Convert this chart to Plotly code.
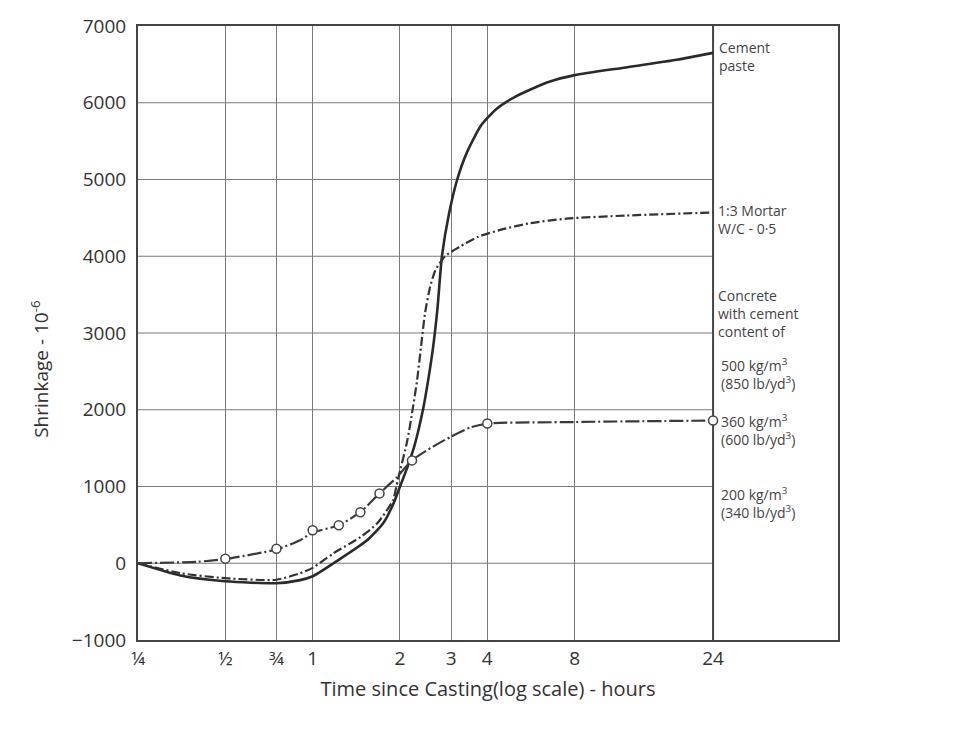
import math
import plotly.graph_objects as go

# ---------------- data ----------------
x_tick_vals = [0.25, 0.5, 0.75, 1, 2, 3, 4, 8, 24]
x_tick_text = ["¼", "½", "¾", "1", "2", "3", "4", "8", "24"]
y_tick_vals = [-1000, 0, 1000, 2000, 3000, 4000, 5000, 6000, 7000]

paste_t = [0.25, 0.35, 0.5, 0.75, 0.905, 1.0, 1.18, 1.54, 1.75, 1.9, 2.0, 2.12, 2.25, 2.4, 2.5, 2.6,
           2.69, 2.79, 2.95, 3.15, 3.4, 3.8, 4.3, 5.0, 6.5, 8, 12, 18, 24]
paste_s = [0, -160, -235, -260, -220, -170, 0, 300, 520, 780, 1000, 1250, 1550, 2000, 2380, 2810,
           3300, 4000, 4550, 5000, 5350, 5700, 5920, 6080, 6270, 6360, 6460, 6560, 6650]

mortar_t = [0.25, 0.35, 0.5, 0.75, 0.905, 1.0, 1.18, 1.46, 1.67, 1.89, 1.97, 2.12, 2.2, 2.29, 2.36,
            2.44, 2.54, 2.65, 2.86, 3.2, 3.7, 4.5, 5.6, 7.5, 12, 24]
mortar_s = [0, -130, -195, -215, -130, -60, 130, 340, 520, 820, 1100, 1600, 1950, 2380, 2800,
            3260, 3600, 3820, 4000, 4120, 4250, 4350, 4430, 4490, 4530, 4570]

conc360_t = [0.25, 0.4, 0.5, 0.75, 0.905, 1.0, 1.23, 1.46, 1.7, 1.95, 2.2, 2.6, 3.0, 3.5, 4.0, 8, 24]
conc360_s = [0, 20, 55, 180, 300, 400, 495, 665, 910, 1120, 1340, 1520, 1650, 1770, 1820, 1840, 1860]
conc360_mark_t = [0.5, 0.75, 1.0, 1.23, 1.46, 1.7, 2.2, 4.0, 24]
conc360_mark_s = [60, 190, 430, 495, 665, 910, 1340, 1820, 1860]

grid_end = 24

FONT = "Open Sans"
INK = "#333333"
GRID = "#7a7a7a"

fig = go.Figure()

# horizontal gridlines stop at 24 h
for yv in y_tick_vals[1:-1]:
    fig.add_trace(go.Scatter(x=[x_tick_vals[0], grid_end], y=[yv, yv], mode="lines",
                             line=dict(color=GRID, width=1.2), hoverinfo="skip", showlegend=False))
# heavier 24 h line
fig.add_trace(go.Scatter(x=[grid_end, grid_end], y=[y_tick_vals[0], y_tick_vals[-1]], mode="lines",
                         line=dict(color="#444444", width=2), hoverinfo="skip", showlegend=False))

fig.add_trace(go.Scatter(x=paste_t, y=paste_s, mode="lines", name="Cement paste",
                         line=dict(color="#2a2a2a", width=2.6, shape="spline", smoothing=0.6)))
fig.add_trace(go.Scatter(x=mortar_t, y=mortar_s, mode="lines", name="1:3 Mortar",
                         line=dict(color="#333333", width=2.2, shape="spline", smoothing=0.6,
                                   dash="9px,3px,2px,3px")))
fig.add_trace(go.Scatter(x=conc360_t, y=conc360_s, mode="lines", name="Concrete 360",
                         line=dict(color="#3a3a3a", width=2.2, shape="spline", smoothing=0.6,
                                   dash="14px,3px,2px,3px")))
fig.add_trace(go.Scatter(x=conc360_mark_t, y=conc360_mark_s, mode="markers", name="Concrete 360 pts",
                         marker=dict(symbol="circle", size=9, color="white",
                                     line=dict(color="#444444", width=1.5))))

# right-hand labels
xl = math.log10(grid_end)
labels = [
    ("Cement<br>paste", 6600, 4),
    ("1:3 Mortar<br>W/C - 0·5", 4480, 3),
    ("Concrete<br>with cement<br>content of", 3250, 3),
    ("500 kg/m<sup>3</sup><br>(850 lb/yd<sup>3</sup>)", 2470, 6),
    ("360 kg/m<sup>3</sup><br>(600 lb/yd<sup>3</sup>)", 1740, 6),
    ("200 kg/m<sup>3</sup><br>(340 lb/yd<sup>3</sup>)", 790, 6),
]
for txt, yv, xs in labels:
    fig.add_annotation(x=xl, y=yv, xref="x", yref="y", text=txt, showarrow=False,
                       xanchor="left", yanchor="middle", xshift=xs, align="left",
                       font=dict(family=FONT, size=14, color="#444444"))

# y-axis title
fig.add_annotation(x=0, y=0.44, xref="paper", yref="paper", xshift=-98,
                   text="Shrinkage - 10<sup>-6</sup>", textangle=-90, showarrow=False,
                   xanchor="center", yanchor="middle",
                   font=dict(family=FONT, size=19, color=INK))

fig.update_xaxes(type="log", range=[math.log10(0.25), math.log10(64.7)],
                 tickvals=x_tick_vals, ticktext=x_tick_text, automargin=False,
                 showgrid=True, gridcolor=GRID, gridwidth=1.2,
                 showline=True, linecolor="#444444", linewidth=2, mirror=True,
                 ticks="", zeroline=False,
                 tickfont=dict(family=FONT, size=19, color=INK),
                 title=dict(text="Time since Casting(log scale) - hours",
                            font=dict(family=FONT, size=20, color=INK), standoff=12))
fig.update_yaxes(range=[-1000, 7000], tickvals=y_tick_vals, automargin=False,
                 showgrid=False, zeroline=False,
                 showline=True, linecolor="#444444", linewidth=2, mirror=True,
                 ticks="", ticklabelstandoff=6,
                 tickfont=dict(family=FONT, size=19, color=INK))

fig.update_layout(width=953, height=731, showlegend=False,
                  margin=dict(l=130, r=123, t=18, b=99),
                  paper_bgcolor="white", plot_bgcolor="white")

fig.write_html("out.html")
